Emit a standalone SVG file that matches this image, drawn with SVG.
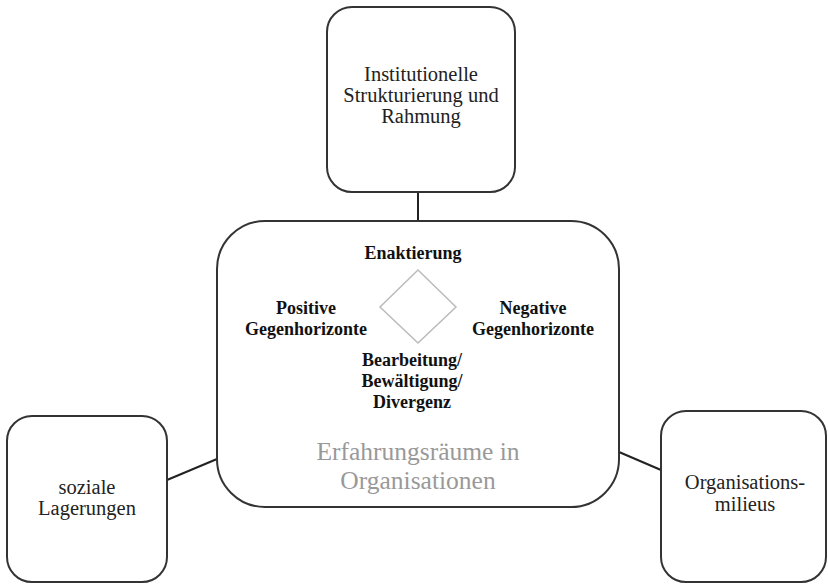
<svg xmlns="http://www.w3.org/2000/svg" width="828" height="584" viewBox="0 0 828 584">
<style>
.box{fill:#fff;stroke:#333;stroke-width:2}
.t{font-family:"Liberation Serif",serif;font-size:20.5px;fill:#222;text-anchor:middle}
.b{font-family:"Liberation Serif",serif;font-size:18px;font-weight:bold;fill:#111;text-anchor:middle}
.g{font-family:"Liberation Serif",serif;font-size:25.5px;fill:#999;text-anchor:middle}
.c{stroke:#222;stroke-width:2;fill:none}
</style>
<rect width="828" height="584" fill="#fff"/>
<g id="connectors">
<line class="c" x1="418" y1="192" x2="418" y2="221"/>
<line class="c" x1="167" y1="480" x2="217" y2="459"/>
<line class="c" x1="619" y1="452" x2="661" y2="470"/>
</g>
<g id="institutionelle">
<rect class="box" x="327" y="7" width="188" height="185" rx="25"/>
<text class="t" x="421" y="81">Institutionelle</text>
<text class="t" x="421" y="102">Strukturierung und</text>
<text class="t" x="421" y="123">Rahmung</text>
</g>
<g id="erfahrungsraeume">
<rect class="box" x="217" y="221" width="402" height="286" rx="48"/>
<text class="b" x="413" y="259">Enaktierung</text>
<polygon points="418,270 456,307 418,343 380,307" fill="none" stroke="#bbb" stroke-width="1.5"/>
<text class="b" x="306" y="314">Positive</text>
<text class="b" x="306" y="335">Gegenhorizonte</text>
<text class="b" x="533" y="314">Negative</text>
<text class="b" x="533" y="335">Gegenhorizonte</text>
<text class="b" x="412" y="366">Bearbeitung/</text>
<text class="b" x="412" y="387">Bewältigung/</text>
<text class="b" x="412" y="408">Divergenz</text>
<text class="g" x="418" y="460">Erfahrungsräume in</text>
<text class="g" x="418" y="489">Organisationen</text>
</g>
<g id="soziale">
<rect class="box" x="7" y="416" width="160" height="166" rx="25"/>
<text class="t" x="87" y="494">soziale</text>
<text class="t" x="87" y="515">Lagerungen</text>
</g>
<g id="organisationsmilieus">
<rect class="box" x="661" y="411" width="165" height="171" rx="25"/>
<text class="t" x="745" y="489">Organisations-</text>
<text class="t" x="745" y="511">milieus</text>
</g>
</svg>
